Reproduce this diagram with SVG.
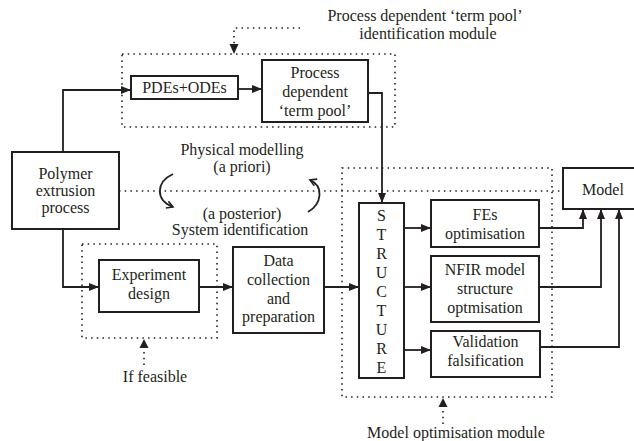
<svg xmlns="http://www.w3.org/2000/svg" width="634" height="441" viewBox="0 0 634 441">
<style>
text{font-family:"Liberation Serif","Times New Roman",serif;font-size:16px;fill:#231f20;text-anchor:middle}
.box{fill:#fff;stroke:#231f20;stroke-width:2}
.ln{fill:none;stroke:#231f20;stroke-width:1.8}
.dot{fill:none;stroke:#231f20;stroke-width:1.6;stroke-dasharray:1.5 4.2}
</style>
<defs>
<marker id="ah" viewBox="0 0 10 8" refX="10" refY="4" markerWidth="10" markerHeight="8" markerUnits="userSpaceOnUse" orient="auto"><path d="M0,0L10,4L0,8z" fill="#231f20"/></marker>
<marker id="open" viewBox="0 0 10 10" refX="8" refY="5" markerWidth="9" markerHeight="9" markerUnits="userSpaceOnUse" orient="auto"><path d="M1,1L8,5L1,9" fill="none" stroke="#231f20" stroke-width="1.8"/></marker>
</defs>
<rect width="634" height="441" fill="#fff"/>
<g id="modules">
<rect class="dot" x="122" y="54" width="273" height="73"/>
<rect class="dot" x="82" y="244" width="135" height="94"/>
<rect class="dot" x="342" y="168" width="210" height="229"/>
<path class="dot" d="M119,191H563"/>
<text x="425" y="21">Process dependent ‘term pool’</text>
<text x="428" y="39">identification module</text>
<text x="155" y="382">If feasible</text>
<text x="456" y="438">Model optimisation module</text>
<text x="242" y="155">Physical modelling</text>
<text x="242" y="172">(a priori)</text>
<text x="242" y="219">(a posterior)</text>
<text x="240" y="235">System identification</text>
</g>
<g id="connectors">
<path class="ln" d="M63,152V90H131" marker-end="url(#ah)"/>
<path class="ln" d="M63,229V287H99" marker-end="url(#ah)"/>
<path class="ln" d="M238,89H262" marker-end="url(#ah)"/>
<path class="ln" d="M368,93H382V203" marker-end="url(#ah)"/>
<path class="ln" d="M199,287H233" marker-end="url(#ah)"/>
<path class="ln" d="M324,287H359" marker-end="url(#ah)"/>
<path class="ln" d="M404,228H431" marker-end="url(#ah)"/>
<path class="ln" d="M404,287H431" marker-end="url(#ah)"/>
<path class="ln" d="M404,350H431" marker-end="url(#ah)"/>
<path class="ln" d="M539,228H583V209" marker-end="url(#ah)"/>
<path class="ln" d="M539,287H601V209" marker-end="url(#ah)"/>
<path class="ln" d="M540,347H619V209" marker-end="url(#ah)"/>
<path class="dot" d="M300,28H234V45"/>
<path d="M229.5,44L234,54L238.5,44z" fill="#231f20"/>
<path class="dot" d="M144,365V347"/>
<path d="M139.5,348L144,339L148.5,348z" fill="#231f20"/>
<path class="dot" d="M443,424V406"/>
<path d="M438.5,407L443,398L447.5,407z" fill="#231f20"/>
<path class="ln" d="M173,174C156,182 155,200 173,207" marker-end="url(#open)"/>
<path class="ln" d="M308,212C322,204 324,186 310,180" marker-end="url(#open)"/>
</g>
<g id="polymer">
<rect class="box" x="12" y="152" width="107" height="77"/>
<text x="65.5" y="179">Polymer</text>
<text x="65.5" y="196">extrusion</text>
<text x="65.5" y="213">process</text>
</g>
<g id="pdes">
<rect class="box" x="131" y="76" width="107" height="23"/>
<text x="184.5" y="93">PDEs+ODEs</text>
</g>
<g id="termpool">
<rect class="box" x="262" y="60" width="106" height="62"/>
<text x="315" y="78">Process</text>
<text x="315" y="97">dependent</text>
<text x="315" y="116">‘term pool’</text>
</g>
<g id="experiment">
<rect class="box" x="99" y="260" width="100" height="52"/>
<text x="149" y="280">Experiment</text>
<text x="149" y="299">design</text>
</g>
<g id="data">
<rect class="box" x="233" y="247" width="91" height="86"/>
<text x="278.5" y="266">Data</text>
<text x="278.5" y="285">collection</text>
<text x="278.5" y="304">and</text>
<text x="278.5" y="322">preparation</text>
</g>
<g id="structure">
<rect class="box" x="359" y="203" width="45" height="175"/>
<text x="381.5" y="221">S</text>
<text x="381.5" y="240">T</text>
<text x="381.5" y="259">R</text>
<text x="381.5" y="278">U</text>
<text x="381.5" y="297">C</text>
<text x="381.5" y="316">T</text>
<text x="381.5" y="335">U</text>
<text x="381.5" y="354">R</text>
<text x="381.5" y="373">E</text>
</g>
<g id="fes">
<rect class="box" x="431" y="200" width="108" height="47"/>
<text x="485" y="220">FEs</text>
<text x="485" y="239">optimisation</text>
</g>
<g id="nfir">
<rect class="box" x="431" y="256" width="108" height="66"/>
<text x="485" y="275">NFIR model</text>
<text x="485" y="294">structure</text>
<text x="485" y="313">optmisation</text>
</g>
<g id="validation">
<rect class="box" x="431" y="331" width="109" height="46"/>
<text x="485.5" y="347">Validation</text>
<text x="485.5" y="366">falsification</text>
</g>
<g id="model">
<rect class="box" x="563" y="168" width="80" height="41"/>
<text x="603" y="195">Model</text>
</g>
</svg>
